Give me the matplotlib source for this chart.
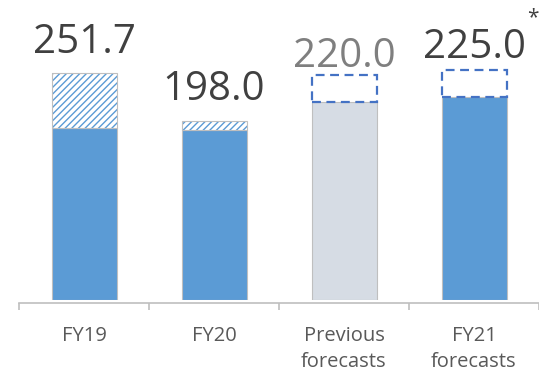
import matplotlib.pyplot as plt
import numpy as np

plt.rcParams['font.family'] = ['Open Sans', 'DejaVu Sans']
plt.rcParams['hatch.linewidth'] = 1.0

categories = ['FY19', 'FY20', 'Previous\nforecasts', 'FY21\nforecasts']
labels = ['251.7', '198.0', '220.0', '225.0']
base = [191.0, 188.0, 220.0, 225.0]        # solid part of each bar
hatched = [60.7, 10.0, 0.0, 0.0]           # hatched top section (actuals)
upside = [0.0, 0.0, 30.0, 30.0]            # dashed outline above forecasts

blue = '#5B9BD5'
grey_bar = '#D6DCE4'
edge = '#BFBFBF'
bar_colors = [blue, blue, grey_bar, blue]
label_colors = ['#404040', '#404040', '#7F7F7F', '#404040']

fig = plt.figure(figsize=(5.39, 3.76), dpi=100)
ax = fig.add_axes([19 / 539, 76 / 376, 520 / 539, 300 / 376])

x = np.arange(len(categories))
w = 0.5

ax.bar(x, base, w, color=bar_colors, edgecolor=edge, linewidth=0.8, zorder=2)

# hatched section on top of the actual years
hx = [i for i in x if hatched[i] > 0]
hb = [base[i] for i in hx]
hh = [hatched[i] for i in hx]
ax.bar(hx, hh, w, bottom=hb, color='white', edgecolor=blue, linewidth=0,
       hatch='/////', zorder=2)
ax.bar(hx, hh, w, bottom=hb, fill=False, edgecolor=edge, linewidth=0.8, zorder=3)

# dashed boxes for the forecast range
ux = [i for i in x if upside[i] > 0]
ub = [base[i] for i in ux]
uh = [upside[i] for i in ux]
ax.bar(ux, uh, w, bottom=ub, fill=False, edgecolor='#4472C4', linewidth=1.6,
       linestyle=(0, (4, 2.5)), zorder=3)

# value labels above each stack
tops = [base[i] + hatched[i] + upside[i] for i in x]
offsets = [20, 21, 8, 12]
for i in x:
    ax.annotate(labels[i], (x[i], tops[i]), xytext=(0, offsets[i] * 0.72),
                textcoords='offset points', ha='center', va='baseline',
                fontsize=29, color=label_colors[i])

fig.text(533 / 539, 1 - 18 / 376, '*', fontsize=15, color='#404040',
         ha='center', va='center')

ax.set_xlim(-0.5, 3.5)
ax.set_ylim(0, 332.6)
ax.set_yticks([])
for s in ['top', 'right', 'left']:
    ax.spines[s].set_visible(False)
ax.spines['bottom'].set_color(edge)
ax.spines['bottom'].set_linewidth(1.2)
ax.spines['bottom'].set_position(('outward', 2))

ax.set_xticks(x)
ax.set_xticklabels(categories, fontsize=14.5, color='#595959', linespacing=1.35,
                   va='top')
ax.tick_params(axis='x', which='major', length=0, pad=17)
ax.set_xticks(np.arange(-0.5, 4.0, 1.0), minor=True)
ax.tick_params(axis='x', which='minor', length=5, width=1.2, color=edge)

fig.savefig('out.png', dpi=100)
